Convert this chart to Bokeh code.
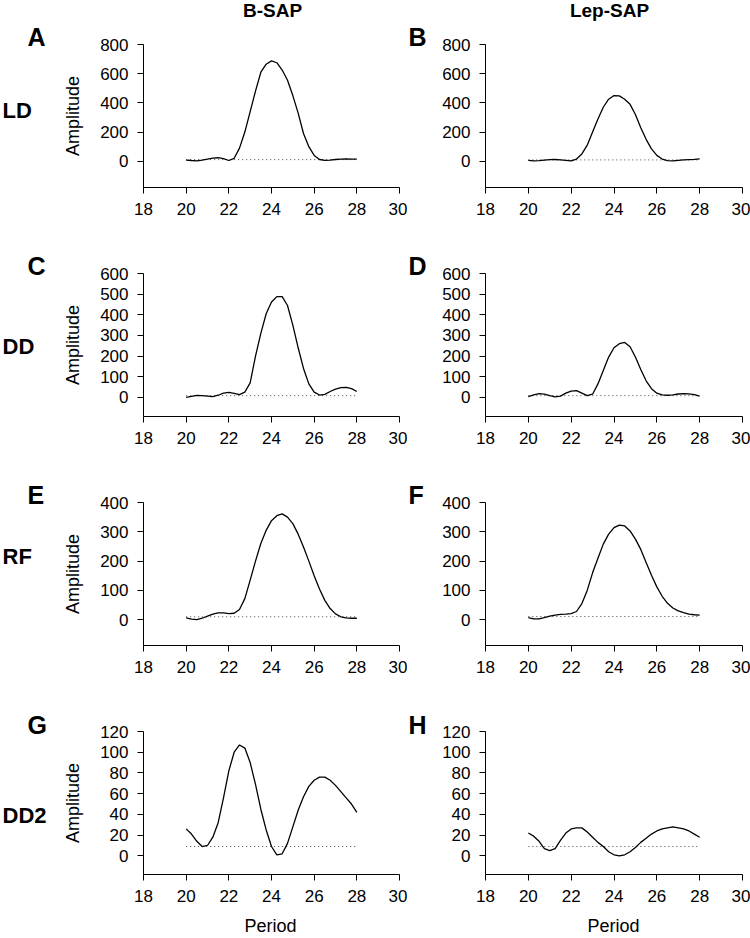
from bokeh.plotting import figure
from bokeh.models import Range1d, FixedTicker
from bokeh.core.properties import value
from bokeh.layouts import column, row
from bokeh.embed import file_html
from bokeh.resources import INLINE

# ---------------- data ----------------
period = [20.0, 20.25, 20.5, 20.75, 21.0, 21.25, 21.5, 21.75, 22.0, 22.25, 22.5,
          22.75, 23.0, 23.25, 23.5, 23.75, 24.0, 24.25, 24.5, 24.75, 25.0, 25.25,
          25.5, 25.75, 26.0, 26.25, 26.5, 26.75, 27.0, 27.25, 27.5, 27.75, 28.0]

ld_bsap = [8, 5, 3, 8, 15, 22, 24, 18, 5, 20, 90, 200, 340, 480, 610, 665, 688,
           675, 625, 555, 450, 330, 190, 100, 40, 12, 6, 8, 12, 15, 16, 15, 14]
ld_lep = [6, 3, 4, 8, 11, 12, 10, 6, 2, 15, 50, 110, 200, 290, 370, 425, 450,
          448, 425, 390, 320, 230, 150, 85, 40, 15, 4, 3, 6, 9, 11, 13, 16]
dd_bsap = [0, 5, 9, 8, 6, 3, 10, 20, 24, 19, 13, 25, 70, 200, 310, 405, 462,
           488, 488, 445, 350, 240, 140, 65, 25, 11, 14, 28, 40, 47, 48, 42, 28]
dd_lep = [3, 12, 18, 15, 8, 2, 6, 20, 30, 32, 20, 8, 15, 65, 130, 195, 240,
          260, 266, 245, 195, 135, 80, 42, 20, 12, 10, 12, 16, 18, 17, 13, 6]
rf_bsap = [6, 2, 0, 5, 12, 19, 23, 23, 21, 22, 35, 72, 135, 200, 260, 305, 338,
           355, 361, 350, 328, 292, 248, 200, 150, 105, 66, 38, 20, 10, 6, 5, 5]
rf_lep = [7, 3, 3, 7, 12, 16, 18, 19, 21, 28, 55, 100, 160, 210, 258, 292, 314,
          323, 320, 303, 275, 240, 195, 152, 112, 80, 56, 40, 30, 24, 19, 17, 16]
dd2_bsap = [26, 21, 14, 9, 10, 18, 32, 56, 82, 100, 107, 104, 90, 69, 45, 25, 9,
            1, 2, 12, 28, 44, 57, 67, 73, 76, 76, 73, 68, 62, 56, 50, 42]
dd2_lep = [22, 19, 14, 7, 5, 7, 15, 22, 26, 27, 27, 23, 18, 13, 9, 4, 1,
           0, 1, 4, 8, 13, 17, 21, 24, 26, 27, 28, 27, 26, 24, 21, 18]

thr_period = [20, 28]
thresholds = {"A": 11, "B": 9, "C": 8, "D": 8, "E": 10, "F": 11, "G": 9, "H": 9}

x_ticks = [18, 20, 22, 24, 26, 28, 30]
y_ticks_ld = [0, 200, 400, 600, 800]
y_ticks_dd = [0, 100, 200, 300, 400, 500, 600]
y_ticks_rf = [0, 100, 200, 300, 400]
y_ticks_dd2 = [0, 20, 40, 60, 80, 100, 120]

column_titles = ["B-SAP", "Lep-SAP"]
row_titles = ["LD", "DD", "RF", "DD2"]
letters = [["A", "B"], ["C", "D"], ["E", "F"], ["G", "H"]]
series = [[ld_bsap, ld_lep], [dd_bsap, dd_lep], [rf_bsap, rf_lep], [dd2_bsap, dd2_lep]]
y_ranges = [(-180, 800), (-93, 600), (-88, 400), (-18, 120)]
y_tick_sets = [y_ticks_ld, y_ticks_dd, y_ticks_rf, y_ticks_dd2]

# ---------------- layout ----------------
FONT = "Liberation Sans"
FH = 143                      # frame height
TOPS = [22, 26, 26, 26]       # border above each frame
BOTTOMS = [60, 60, 60, 40]    # border below each frame
HEADER_H = 22
FOOTER_H = 23
STRIP_L, STRIP_R = 60, 23
FIG_L = (82, 257, 8)   # left border, frame width, right border
FIG_R = (55, 257, 8)
letter_base = [24, 28.5, 28.5, 29]     # visual baseline from top of the row
row_label_base = [97, 108, 89, 119]


def text_fig(w, h, items):
    p = figure(width=w, height=h, x_range=Range1d(0, w), y_range=Range1d(h, 0),
               output_backend="svg", toolbar_location=None, min_border=0,
               x_axis_location=None, y_axis_location=None, frame_align=False)
    p.outline_line_color = None
    p.grid.visible = False
    p.background_fill_color = "white"
    p.border_fill_color = "white"
    for (x, y, t, size, bold, align) in items:
        # the glyph sits lower than its anchor by about 0.4 em: compensate
        p.text(x=[x], y=[y - 0.4 * size], text=[t], text_font=value(FONT),
               text_font_size=value(f"{size}px"),
               text_font_style="bold" if bold else "normal",
               text_align=align, text_baseline="alphabetic", text_color="black")
    return p


def panel(r, c):
    lb, fw, rb = FIG_L if c == 0 else FIG_R
    top, bottom = TOPS[r], BOTTOMS[r]
    p = figure(width=lb + fw + rb, height=top + FH + bottom,
               x_range=Range1d(18, 30), y_range=Range1d(*y_ranges[r]),
               output_backend="svg", toolbar_location=None, frame_align=False,
               min_border_left=lb, min_border_right=rb,
               min_border_top=top, min_border_bottom=bottom)
    p.outline_line_color = None
    p.xgrid.visible = False
    p.ygrid.visible = False
    p.background_fill_color = "white"
    p.border_fill_color = "white"
    for ax, ticks in ((p.xaxis, x_ticks), (p.yaxis, y_tick_sets[r])):
        ax.ticker = FixedTicker(ticks=ticks)
        ax.axis_line_color = "black"
        ax.axis_line_width = 1
        ax.major_tick_line_color = "black"
        ax.major_tick_in = 0
        ax.major_tick_out = 6
        ax.minor_tick_line_color = None
        ax.major_label_text_font = FONT
        ax.major_label_text_font_size = "17px"
        ax.major_label_text_color = "black"
        ax.major_label_standoff = 9
    if c == 0:
        p.yaxis.axis_label = "Amplitude"
        p.yaxis.axis_label_text_font = FONT
        p.yaxis.axis_label_text_font_size = "18px"
        p.yaxis.axis_label_text_font_style = "normal"
        p.yaxis.axis_label_text_color = "black"
        p.yaxis.axis_label_standoff = 14
    thr = thresholds[letters[r][c]]
    p.line(thr_period, [thr, thr], line_color="#444444", line_width=1, line_dash="1 3")
    p.line(period, series[r][c], line_color="black", line_width=1.3)
    return p


total_w = STRIP_L + sum(FIG_L) + STRIP_R + sum(FIG_R)
header = text_fig(total_w, HEADER_H, [
    (272, 17.5, column_titles[0], 19, True, "center"),
    (609, 17.5, column_titles[1], 19, True, "center"),
])
footer = text_fig(total_w, FOOTER_H, [
    (270, 19, "Period", 18, False, "center"),
    (613, 19, "Period", 18, False, "center"),
])

rows = [header]
for r in range(4):
    h = TOPS[r] + FH + BOTTOMS[r]
    left_strip = text_fig(STRIP_L, h, [
        (27, letter_base[r], letters[r][0], 25, True, "left"),
        (2, row_label_base[r], row_titles[r], 22, True, "left"),
    ])
    right_strip = text_fig(STRIP_R, h, [
        (1, letter_base[r], letters[r][1], 25, True, "left"),
    ])
    rows.append(row(left_strip, panel(r, 0), right_strip, panel(r, 1), spacing=0))
rows.append(footer)

layout = column(*rows, spacing=0)

open("out.html", "w").write(file_html(layout, INLINE))
